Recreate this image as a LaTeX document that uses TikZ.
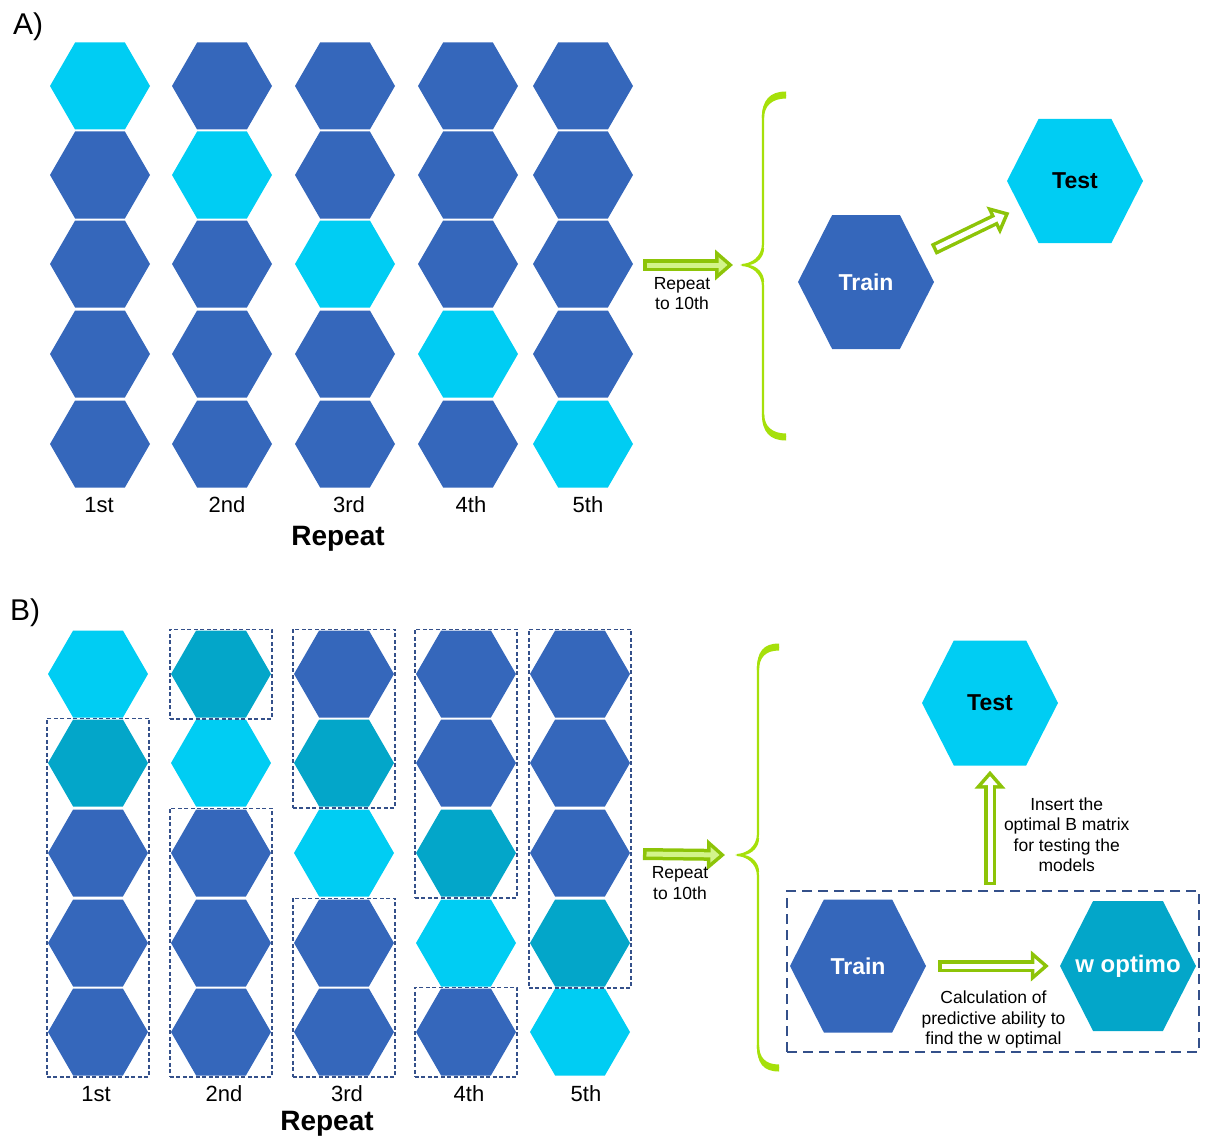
\documentclass[tikz,border=0pt]{standalone}
\usepackage{fontspec}
\setmainfont{Liberation Sans}
\usetikzlibrary{shapes.symbols,arrows.meta,fit,positioning}

\definecolor{cellblue}{HTML}{3567BB}
\definecolor{cellcyan}{HTML}{00CDF3}
\definecolor{cellteal}{HTML}{03A6C9}
\definecolor{bracegreen}{HTML}{A6E00A}
\definecolor{arrowedge}{HTML}{8DC408}
\definecolor{arrowlight}{HTML}{D3F48A}
\definecolor{foldline}{HTML}{34508A}

\tikzset{
  hexcell/.style={signal, signal to=west and east, signal pointer angle=120,
    minimum width=100pt, minimum height=87pt, inner sep=0pt, fill=#1},
  hexbig/.style={signal, signal to=west and east, signal pointer angle=126,
    minimum width=136pt, minimum height=134pt, inner sep=0pt, fill=#1,
    font=\fontsize{23}{26}\selectfont\bfseries},
  ordlabel/.style={font=\fontsize{22}{24}\selectfont},
  repeatlabel/.style={font=\fontsize{28}{30}\selectfont\bfseries},
  partlabel/.style={font=\fontsize{30}{32}\selectfont},
  smallnote/.style={font=\fontsize{17.5}{20.5}\selectfont, align=center, inner sep=0pt},
  foldbox/.style={draw=foldline, line width=1.6pt, dash pattern=on 4pt off 2.5pt, inner sep=1pt},
  calcbox/.style={draw=foldline, line width=2.4pt, dash pattern=on 10pt off 6pt, inner sep=0pt},
  brace/.style={draw=bracegreen, line width=2.2pt},
  arrowout/.style={draw=arrowedge, line width=12pt, -{Triangle[length=18pt, width=30pt]}},
  arrowin/.style={draw=#1, line width=5pt, shorten >=5.5pt, shorten <=3.5pt,
    -{Triangle[length=9pt, width=15pt]}},
}

\begin{document}
\begin{tikzpicture}[x=1pt, y=-1pt]
\useasboundingbox (0,0) rectangle (1208,1137);

% ---- part A: folds ----
\node[partlabel] (labA) at (28,27) {A)};
\foreach \c/\x in {1/100,2/222,3/345,4/468,5/583}{
  \foreach \r/\y in {1/86,2/175,3/264,4/354,5/444}{
    \ifnum\c=\r \def\hexcol{cellcyan}\else \def\hexcol{cellblue}\fi
    \node[hexcell=\hexcol] (a-\c-\r) at (\x,\y) {};
  }
}
\foreach \c/\x/\o in {1/99/1st,2/227/2nd,3/349/3rd,4/471/4th,5/588/5th}
  \node[ordlabel] (ordA-\c) at (\x,505) {\o};
\node[repeatlabel] (repA) at (338,539) {Repeat};

% brace A
\draw[brace] (786,95) .. controls (771,95) and (763,102) .. (763,117) -- (763,244)
  .. controls (763,257) and (752,265) .. (742,265)
  .. controls (752,265) and (763,273) .. (763,286) -- (763,413)
  .. controls (763,428) and (771,437) .. (786,437);
\fill[bracegreen] (786,91.5) .. controls (770,91.5) and (761.9,100) .. (761.9,118)
  -- (764.1,118) .. controls (764.1,106) and (772,98.5) .. (786,98.5) -- cycle;
\fill[bracegreen] (786,440.5) .. controls (770,440.5) and (761.9,432) .. (761.9,414)
  -- (764.1,414) .. controls (764.1,426) and (772,433.5) .. (786,433.5) -- cycle;
\fill[bracegreen] (761.9,248) .. controls (761.9,258) and (752,263) .. (740,265)
  .. controls (752,267) and (761.9,272) .. (761.9,282) -- (764.1,282)
  .. controls (764.1,273) and (757,266) .. (749,265)
  .. controls (757,264) and (764.1,257) .. (764.1,248) -- cycle;
\coordinate (braceA) at (742,265);
\coordinate (rptA) at (643,265);
\draw[arrowout] (rptA) -- ([xshift=-9pt]braceA)
  node[midway, below=6pt, xshift=-6pt, smallnote] {Repeat\\to 10th};
\draw[arrowin=arrowlight] (rptA) -- ([xshift=-9pt]braceA);

% train / test A
\node[hexbig=cellblue, text=white] (trainA) at (866,282) {Train};
\node[hexbig=cellcyan, text=black, minimum height=124pt] (testA) at (1075,181) {Test};
\draw[arrowout, shorten <=14pt, shorten >=12pt] (trainA) -- (testA);
\draw[arrowin=white, shorten <=17.5pt, shorten >=17.5pt] (trainA) -- (testA);

% ---- part B: folds ----
\node[partlabel] (labB) at (25,613) {B)};
\foreach \c/\x in {1/98,2/221,3/344,4/466,5/580}{
  \pgfmathtruncatemacro\tealrow{\c==1 ? 2 : \c-1}
  \foreach \r/\y in {1/674,2/763,3/853,4/943,5/1032}{
    \ifnum\r=\c \def\hexcol{cellcyan}\else
      \ifnum\r=\tealrow \def\hexcol{cellteal}\else \def\hexcol{cellblue}\fi\fi
    \node[hexcell=\hexcol] (b-\c-\r) at (\x,\y) {};
  }
}
\node[foldbox, fit=(b-1-2)(b-1-5)] (fold-1a) {};
\node[foldbox, fit=(b-2-1)] (fold-2a) {};
\node[foldbox, fit=(b-2-3)(b-2-5)] (fold-2b) {};
\node[foldbox, fit=(b-3-1)(b-3-2)] (fold-3a) {};
\node[foldbox, fit=(b-3-4)(b-3-5)] (fold-3b) {};
\node[foldbox, fit=(b-4-1)(b-4-3)] (fold-4a) {};
\node[foldbox, fit=(b-4-5)] (fold-4b) {};
\node[foldbox, fit=(b-5-1)(b-5-4)] (fold-5a) {};
\foreach \c/\x/\o in {1/96/1st,2/224/2nd,3/347/3rd,4/469/4th,5/586/5th}
  \node[ordlabel] (ordB-\c) at (\x,1094) {\o};
\node[repeatlabel] (repB) at (327,1124) {Repeat};

% brace B
\draw[brace] (779,647) .. controls (764,647) and (758,654) .. (758,669) -- (758,834)
  .. controls (758,847) and (747,855) .. (737,855)
  .. controls (747,855) and (758,863) .. (758,876) -- (758,1046)
  .. controls (758,1061) and (764,1068) .. (779,1068);
\fill[bracegreen] (779,643.5) .. controls (763,643.5) and (756.9,652) .. (756.9,670)
  -- (759.1,670) .. controls (759.1,658) and (765,650.5) .. (779,650.5) -- cycle;
\fill[bracegreen] (779,1071.5) .. controls (763,1071.5) and (756.9,1063) .. (756.9,1045)
  -- (759.1,1045) .. controls (759.1,1057) and (765,1064.5) .. (779,1064.5) -- cycle;
\fill[bracegreen] (756.9,838) .. controls (756.9,848) and (747,853) .. (735,855)
  .. controls (747,857) and (756.9,862) .. (756.9,872) -- (759.1,872)
  .. controls (759.1,863) and (752,856) .. (744,855)
  .. controls (752,854) and (759.1,847) .. (759.1,838) -- cycle;
\coordinate (braceB) at (737,855);
\coordinate (rptB) at (643,854);
\draw[arrowout] (rptB) -- ([xshift=-12pt]braceB)
  node[midway, below=6pt, xshift=-4pt, smallnote] {Repeat\\to 10th};
\draw[arrowin=arrowlight] (rptB) -- ([xshift=-12pt]braceB);

% train / w optimo / test B
\node[hexbig=cellcyan, text=black, minimum height=125pt] (testB) at (990,703) {Test};
\node[hexbig=cellblue, text=white, minimum height=133pt] (trainB) at (858,966) {Train};
\node[hexbig=cellteal, text=white, minimum height=130pt, inner xsep=-24pt,
  font=\fontsize{24}{26}\selectfont\bfseries] (woptB) at (1128,966) {w optimo};
\node[calcbox, fit={(787,891) (1199,1052)}] (evalbox) {};

\draw[arrowout] ([xshift=12pt]trainB.east) -- ([xshift=-11pt]woptB.west)
  node[midway, below=19pt, smallnote] {Calculation of\\predictive ability to\\find the w optimal};
\draw[arrowin=white] ([xshift=12pt]trainB.east) -- ([xshift=-11pt]woptB.west);

\coordinate (upfoot) at (990,885);
\draw[arrowout] (upfoot) -- ([yshift=-5pt]testB.south)
  node[midway, right=8pt, yshift=-7pt, smallnote] {Insert the\\optimal B matrix\\for testing the\\models};
\draw[arrowin=white] (upfoot) -- ([yshift=-5pt]testB.south);
\end{tikzpicture}
\end{document}
